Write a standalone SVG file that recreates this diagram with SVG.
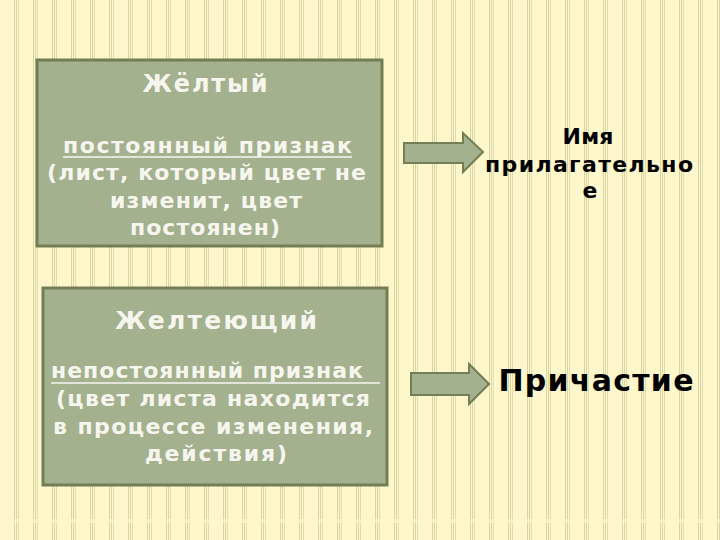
<svg xmlns="http://www.w3.org/2000/svg" width="720" height="540" viewBox="0 0 720 540">
<defs>
<pattern id="stripes" x="0" y="0" width="19" height="540" patternUnits="userSpaceOnUse">
<rect x="0" y="0" width="19" height="540" fill="#FEF7CB"/>
<rect x="14" y="0" width="1" height="540" fill="#D9D4A2"/>
<rect x="16" y="0" width="1" height="540" fill="#D9D4A2"/>
<rect x="18" y="0" width="1" height="540" fill="#E2DDAD"/>
</pattern>
<style>
.box{fill:#A4B18F;stroke:#737E54;stroke-width:3}
.arrow{fill:#A4B18F;stroke:#737E54;stroke-width:2;stroke-linejoin:miter}
.wt{font-family:"DejaVu Sans",sans-serif;font-weight:bold;fill:#F6F6EE;text-anchor:middle}
.bt{font-family:"DejaVu Sans",sans-serif;font-weight:bold;fill:#000;text-anchor:middle}
.ul{stroke:#F6F6EE;stroke-width:1.5}
</style>
</defs>
<rect x="0" y="0" width="720" height="540" fill="url(#stripes)"/>
<rect x="0" y="519" width="720" height="4" fill="#FEF7CB" opacity="0.6"/>

<g id="node-yellow">
<rect class="box" x="37" y="60" width="345" height="186"/>
<text class="wt" x="205" y="92" font-size="24" textLength="125" lengthAdjust="spacing">Жёлтый</text>
<text class="wt" x="207.5" y="153" font-size="22" textLength="289" lengthAdjust="spacing">постоянный признак</text>
<line class="ul" x1="63" y1="157" x2="352" y2="157"/>
<text class="wt" x="206.5" y="180" font-size="22" textLength="319" lengthAdjust="spacing">(лист, который цвет не</text>
<text class="wt" x="206" y="208" font-size="22" textLength="192" lengthAdjust="spacing">изменит, цвет</text>
<text class="wt" x="205" y="235" font-size="22" textLength="150" lengthAdjust="spacing">постоянен)</text>
</g>

<g id="node-yellowing">
<rect class="box" x="43" y="288" width="344" height="197"/>
<text class="wt" x="216" y="329" font-size="25" textLength="202" lengthAdjust="spacing">Желтеющий</text>
<text class="wt" x="207" y="378" font-size="22" textLength="312" lengthAdjust="spacing">непостоянный признак</text>
<line class="ul" x1="51" y1="383" x2="380" y2="383"/>
<text class="wt" x="213" y="406" font-size="22" textLength="314" lengthAdjust="spacing">(цвет листа находится</text>
<text class="wt" x="213" y="434" font-size="22" textLength="320" lengthAdjust="spacing">в процессе изменения,</text>
<text class="wt" x="216" y="461" font-size="22" textLength="142" lengthAdjust="spacing">действия)</text>
</g>

<g id="node-adjective">
<text class="bt" x="588" y="144" font-size="22" textLength="51" lengthAdjust="spacing">Имя</text>
<text class="bt" x="589" y="172" font-size="22" textLength="208" lengthAdjust="spacing">прилагательно</text>
<text class="bt" x="590" y="198" font-size="22">е</text>
</g>

<g id="node-participle">
<text class="bt" x="596" y="391" font-size="30" textLength="195" lengthAdjust="spacing">Причастие</text>
</g>

<g id="connectors">
<polygon class="arrow" points="404,143 463,143 463,133 483,152 463,172 463,163 404,163"/>
<polygon class="arrow" points="411,373 469,373 469,364 489,384 469,404 469,395 411,395"/>
</g>
</svg>
